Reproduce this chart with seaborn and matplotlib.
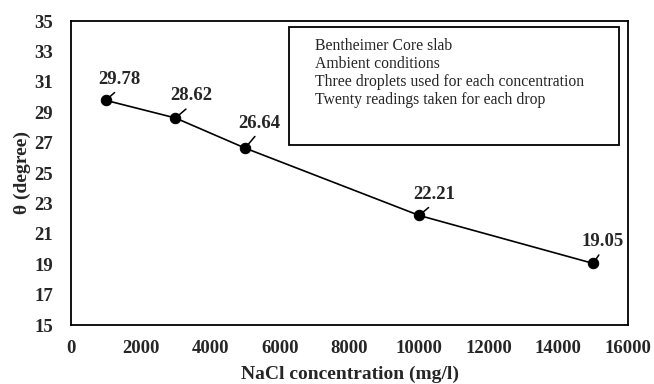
import matplotlib
matplotlib.use("Agg")
import matplotlib.pyplot as plt
import seaborn as sns
import pandas as pd
from matplotlib.patches import Rectangle

# data
concentration = [1000, 3000, 5000, 10000, 15000]
angle = [29.78, 28.62, 26.64, 22.21, 19.05]
notes = ["Bentheimer Core slab",
         "Ambient conditions",
         "Three droplets used for each concentration",
         "Twenty readings taken for each drop"]
x_ticks = list(range(0, 16001, 2000))
y_ticks = list(range(15, 36, 2))

sns.set_style("white")
plt.rcParams['font.family'] = ['Liberation Serif', 'DejaVu Serif']

df = pd.DataFrame({"conc": concentration, "theta": angle})

fig = plt.figure(figsize=(6.54, 3.84), dpi=100)
ax = fig.add_axes([71/654, 1-325/384, (628-71)/654, (325-21)/384])

sns.lineplot(data=df, x="conc", y="theta", ax=ax, color="black", lw=1.2,
             marker="o", markersize=7.5, markeredgecolor="black",
             markerfacecolor="black")

ax.set_xlim(0, 16000)
ax.set_ylim(15, 35)
ax.set_xticks(x_ticks)
ax.set_yticks(y_ticks)
ax.set_xticklabels([str(v) for v in x_ticks], fontsize=13.5, fontweight="bold")
ax.set_yticklabels([str(v) for v in y_ticks], fontsize=13.5, fontweight="bold")
ax.tick_params(axis="x", length=0, pad=11)
ax.tick_params(axis="y", length=0, pad=13)
ax.set_xlabel("NaCl concentration (mg/l)", fontsize=14, fontweight="bold", labelpad=6)
ax.set_ylabel("θ (degree)", fontsize=14, fontweight="bold", labelpad=2)
for s in ax.spines.values():
    s.set_color("black")
    s.set_linewidth(1.3)

# label offsets in pixels (dx, dy) -> points
offsets_px = [(14, 21), (16, 22), (14, 25), (15, 21), (9, 22)]
for xv, yv, (dx, dy) in zip(concentration, angle, offsets_px):
    ax.annotate(f"{yv:.2f}", xy=(xv, yv),
                xytext=(dx*0.72, dy*0.72), textcoords="offset points",
                ha="center", va="center", fontsize=13.5, fontweight="bold",
                arrowprops=dict(arrowstyle="-", color="black", lw=1.1,
                                relpos=(0.5, 0.0), shrinkA=1.5, shrinkB=0))

# notes box
x0, x1 = 289, 619
y0, y1 = 27, 145
def fx(px):
    return (px - 71) / (628 - 71)
def fy(py):
    return (325 - py) / (325 - 21)
ax.add_patch(Rectangle((fx(x0), fy(y1)), fx(x1) - fx(x0), fy(y0) - fy(y1),
                       transform=ax.transAxes, fill=False, edgecolor="black",
                       lw=1.3))
for i, t in enumerate(notes):
    ax.text(fx(315), fy(46 + i * 18), t, transform=ax.transAxes,
            fontsize=11.3, ha="left", va="center")

fig.savefig("out.png", dpi=100)
